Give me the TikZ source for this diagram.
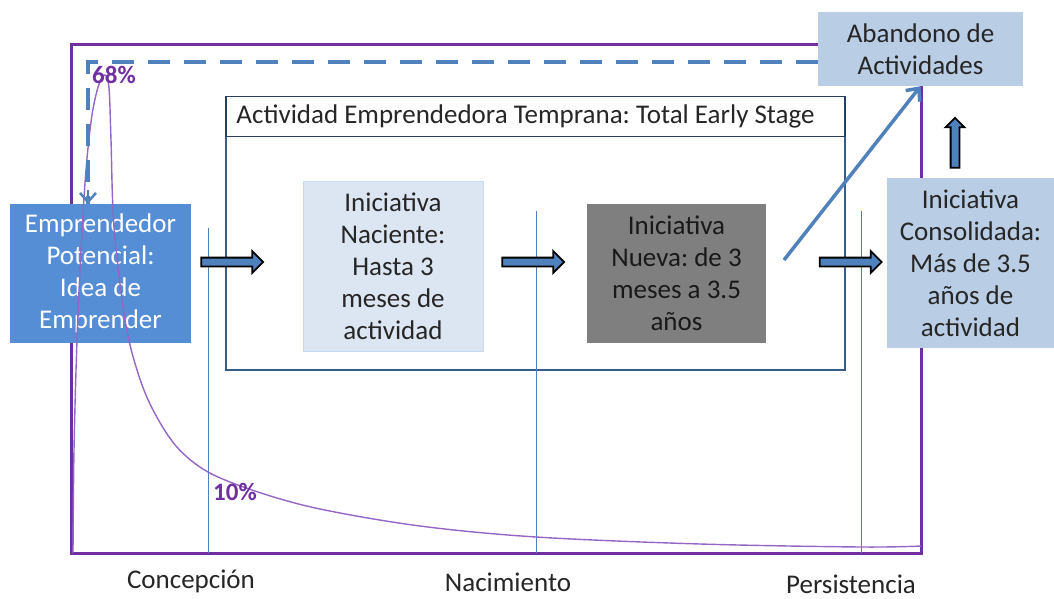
\documentclass[tikz,border=0pt]{standalone}
\usepackage{fontspec}
\setmainfont{Carlito}
\usetikzlibrary{shapes.arrows,arrows.meta}

\definecolor{potblue}{HTML}{558ED5}
\definecolor{paleblue}{HTML}{DCE6F2}
\definecolor{paleedge}{HTML}{C6D9F1}
\definecolor{midblue}{HTML}{B9CDE5}
\definecolor{newgray}{HTML}{7F7F7F}
\definecolor{lineblue}{HTML}{4F81BD}
\definecolor{framenavy}{HTML}{385D8A}
\definecolor{titlenavy}{HTML}{243F60}
\definecolor{gempurple}{HTML}{7030A0}
\definecolor{curvepurple}{HTML}{9466C6}
\definecolor{inkgray}{HTML}{262626}

\frenchspacing
\begin{document}
\begin{tikzpicture}[x=1pt,y=-1pt,
    box/.style={shape=rectangle, align=center, inner sep=0pt,
      font=\fontsize{27}{32}\selectfont, text=inkgray},
    label/.style={font=\fontsize{27}{32}\selectfont, text=inkgray, inner sep=0pt},
    pct/.style={font=\fontsize{25}{30}\selectfont\bfseries, text=gempurple, inner sep=0pt},
    blockarrow/.style={shape=single arrow, draw=black, fill=lineblue, line width=1.8pt,
      inner xsep=0pt, inner ysep=3.5pt, single arrow head extend=6.5pt, minimum height=62pt},
    stageline/.style={draw=lineblue, line width=1pt}
  ]
    \useasboundingbox (0,0) rectangle (1054,599);

    % outer frame
    \draw[gempurple, line width=3pt] (71,45) rectangle (921,553);

    % early stage frame
    \node[draw=framenavy, line width=2.5pt, minimum width=619, minimum height=273] (TEA) at (535.5,233.5) {};
    \node[draw=titlenavy, line width=1.5pt, fill=white, anchor=north, minimum width=619, minimum height=40] (TT) at (TEA.north) {};
    \node[label, anchor=west] (TTtext) at ([xshift=11pt]TT.west) {Actividad Emprendedora Temprana: Total Early Stage};

    % stage lines
    \foreach \x/\t in {208/228, 536/211, 861/211}
        \draw[stageline] (\x,\t) -- (\x,553);

    % boxes
    \node[box, fill=potblue, text=white, minimum width=181, minimum height=139] (EP) at (100.5,273.5)
        {Emprendedor\\Potencial:\\Idea de\\Emprender};
    \node[box, fill=paleblue, draw=paleedge, line width=1pt, minimum width=180, minimum height=170] (IN) at (393,266)
        {Iniciativa\\Naciente:\\Hasta 3\\meses de\\actividad};
    \node[box, fill=newgray, text=black!90, minimum width=179, minimum height=139] (NU) at (676.5,273.5)
        {Iniciativa\\Nueva: de 3\\meses a 3.5\\años};
    \node[box, fill=midblue, minimum width=167, minimum height=170] (CO) at (970.5,263)
        {Iniciativa\\Consolidada:\\Más de 3.5\\años de\\actividad};
    \node[box, fill=midblue, minimum width=205, minimum height=74] (AB) at (920.5,49)
        {Abandono de\\Actividades};

    % survival curve
    \draw[curvepurple, line width=1.4pt] plot[smooth, tension=0.55] coordinates {
        (73,553) (74,450) (77,340) (81,250) (86,170) (92,115) (99,84) (105,75)
        (109,88) (111,140) (114,227) (125,320) (137,370) (152,408) (176,446) (208,472)
        (258,492) (320,509) (420,526) (536,537) (700,544) (861,547) (921,546)};
    \node[pct] (P68) at (114,75) {68\%};
    \node[pct] (P10) at (235,492) {10\%};

    % stage names
    \node[label] (C1) at (191,581) {Concepción};
    \node[label] (C2) at (508,582) {Nacimiento};
    \node[label] (C3) at (851,584) {Persistencia};

    % block arrows
    \node[blockarrow] (A1) at (230,262) {};
    \node[blockarrow] (A2) at (531,262) {};
    \node[blockarrow] (A3) at (848.5,262) {};
    \node[blockarrow, shape border rotate=90, inner xsep=3.5pt, inner ysep=0pt, minimum height=50pt,
      single arrow head extend=5pt] (A4) at (955,145) {};

    % exits
    \coordinate (DC) at (88,62);
    \draw[lineblue, line width=4pt, dash pattern=on 22pt off 14pt] (AB.west |- DC) -- (DC) -- (DC |- EP.north);
    \draw[lineblue, line width=2.5pt, -{Straight Barb[length=9pt, width=16pt]}] (DC |- 0,190) -- (DC |- EP.north);
    \coordinate (DS) at (784,260);
    \draw[lineblue, line width=3.5pt, -{Straight Barb[length=10pt, width=18pt]}] (DS) -- (AB.south);
\end{tikzpicture}
\end{document}
